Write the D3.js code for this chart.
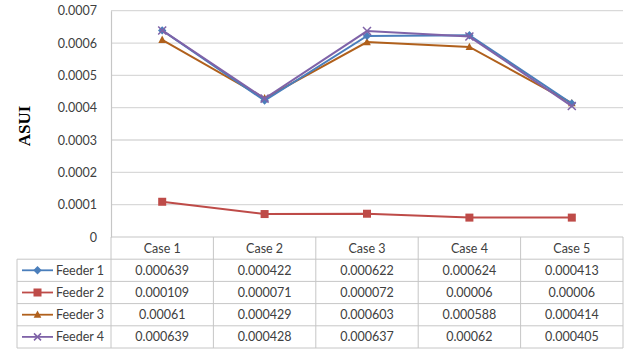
<!DOCTYPE html>
<html><head><meta charset="utf-8">
<script src="https://cdn.jsdelivr.net/npm/d3@7"></script>
<style>
html,body{margin:0;padding:0;background:#fff;}
svg{display:block;font-family:Lato,"Open Sans",sans-serif;}
</style></head>
<body>
<svg id="chart" width="626" height="351"></svg>
<script>
const cases = ["Case 1","Case 2","Case 3","Case 4","Case 5"];
const seriesNames = ["Feeder 1","Feeder 2","Feeder 3","Feeder 4"];
const feeder1 = [0.000639,0.000422,0.000622,0.000624,0.000413];
const feeder2 = [0.000109,0.000071,0.000072,0.00006,0.00006];
const feeder3 = [0.00061,0.000429,0.000603,0.000588,0.000414];
const feeder4 = [0.000639,0.000428,0.000637,0.00062,0.000405];
const tableText = [
  ["0.000639","0.000422","0.000622","0.000624","0.000413"],
  ["0.000109","0.000071","0.000072","0.00006","0.00006"],
  ["0.00061","0.000429","0.000603","0.000588","0.000414"],
  ["0.000639","0.000428","0.000637","0.00062","0.000405"]
];
const yTicks = [0,0.0001,0.0002,0.0003,0.0004,0.0005,0.0006,0.0007];
const yTickLabels = ["0","0.0001","0.0002","0.0003","0.0004","0.0005","0.0006","0.0007"];
const yTitle = "ASUI";

(function(){
const colors = ["#4a7ebb","#be4b48","#b0601c","#7f63a8"];
const symbols = ["diamond","square","triangle","x"];
const data = [feeder1,feeder2,feeder3,feeder4];

const svg = d3.select("#chart");
const pLeft = 111, pRight = 623, pTop = 10.7, pBottom = 237;
const tableLeft = 17, rowH = 22.2, tableRows = 4;

const x = d3.scaleBand().domain(cases).range([pLeft,pRight]);
const y = d3.scaleLinear().domain([0,0.0007]).range([pBottom,pTop]);

const gridColor = "#d9d9d9", tableColor = "#c6c6c6", textColor = "#404040";
const tableFont = "12.5px";

svg.append("g").selectAll("line").data(yTicks.filter(d=>d>0)).join("line")
  .attr("x1",pLeft).attr("x2",pRight)
  .attr("y1",d=>y(d)).attr("y2",d=>y(d))
  .attr("stroke",gridColor).attr("stroke-width",1.3);

const yAxis = d3.axisLeft(y).tickValues(yTicks).tickSize(0).tickPadding(14)
  .tickFormat((d,i)=>yTickLabels[i]);
const gy = svg.append("g").attr("transform",`translate(${pLeft},0)`).call(yAxis);
gy.select(".domain").attr("stroke",tableColor).attr("stroke-width",1.2);
gy.selectAll("text").attr("fill",textColor).style("font-size","12.5px").style("font-family","Lato, sans-serif");

svg.append("text").attr("transform",`translate(30,${(pTop+pBottom)/2+2}) rotate(-90)`)
  .attr("text-anchor","middle").attr("font-family","'Liberation Serif', serif")
  .attr("font-weight","bold").attr("font-size","17px").attr("fill","#000").text(yTitle);

const tableBottom = pBottom + rowH*(tableRows+1);
const tg = svg.append("g");
tg.append("line").attr("x1",pLeft).attr("x2",pRight).attr("y1",pBottom).attr("y2",pBottom)
  .attr("stroke",tableColor).attr("stroke-width",1.2);
d3.range(1,tableRows+2).forEach(i=>{
  tg.append("line").attr("x1",tableLeft).attr("x2",pRight)
    .attr("y1",pBottom+i*rowH).attr("y2",pBottom+i*rowH)
    .attr("stroke",tableColor).attr("stroke-width",1);
});
const vx = cases.map(c=>x(c)).concat([pRight]);
vx.forEach(v=>{
  tg.append("line").attr("x1",v).attr("x2",v).attr("y1",pBottom).attr("y2",tableBottom)
    .attr("stroke",tableColor).attr("stroke-width",1);
});
tg.append("line").attr("x1",tableLeft).attr("x2",tableLeft).attr("y1",pBottom+rowH).attr("y2",tableBottom)
  .attr("stroke",tableColor).attr("stroke-width",1);

tg.selectAll("text.hdr").data(cases).join("text").attr("class","hdr")
  .attr("x",d=>x(d)+x.bandwidth()/2).attr("y",pBottom+rowH/2+4.5)
  .attr("text-anchor","middle").attr("fill",textColor).style("font-size",tableFont).text(d=>d);

tableText.forEach((row,r)=>{
  tg.selectAll("text.c"+r).data(row).join("text").attr("class","c"+r)
    .attr("x",(d,i)=>x(cases[i])+x.bandwidth()/2).attr("y",pBottom+rowH*(r+1)+rowH/2+4.5)
    .attr("text-anchor","middle").attr("fill",textColor).style("font-size",tableFont).text(d=>d);
});

function drawMarker(g, type, cx, cy, color, s){
  if(type==="diamond"){
    g.append("path").attr("d",`M${cx},${cy-s*0.6}L${cx+s*0.6},${cy}L${cx},${cy+s*0.6}L${cx-s*0.6},${cy}Z`).attr("fill",color);
  } else if(type==="square"){
    g.append("rect").attr("x",cx-s/2).attr("y",cy-s/2).attr("width",s).attr("height",s).attr("fill",color);
  } else if(type==="triangle"){
    g.append("path").attr("d",`M${cx},${cy-s*0.6}L${cx+s*0.55},${cy+s*0.45}L${cx-s*0.55},${cy+s*0.45}Z`).attr("fill",color);
  } else {
    const h=s*0.5;
    g.append("path").attr("d",`M${cx-h},${cy-h}L${cx+h},${cy+h}M${cx-h},${cy+h}L${cx+h},${cy-h}`).attr("stroke",color).attr("stroke-width",1.5).attr("fill","none");
  }
}

seriesNames.forEach((n,i)=>{
  const cy = pBottom+rowH*(i+1)+rowH/2;
  tg.append("line").attr("x1",22).attr("x2",53).attr("y1",cy).attr("y2",cy)
    .attr("stroke",colors[i]).attr("stroke-width",1.8);
  drawMarker(tg, symbols[i], 37.5, cy, colors[i], i===1?8:7);
  tg.append("text").attr("x",56).attr("y",cy+4.5).attr("fill",textColor).style("font-size",tableFont).text(n);
});

const line = d3.line().x((d,i)=>x(cases[i])+x.bandwidth()/2).y(d=>y(d));
const lg = svg.append("g");
[1,2,0,3].forEach(i=>{
  lg.append("path").datum(data[i]).attr("d",line).attr("fill","none")
    .attr("stroke",colors[i]).attr("stroke-width",2);
  data[i].forEach((v,j)=>{
    drawMarker(lg, symbols[i], x(cases[j])+x.bandwidth()/2, y(v), colors[i], i===1?8:(i===3?8:7));
  });
});
})();
</script>
</body></html>
